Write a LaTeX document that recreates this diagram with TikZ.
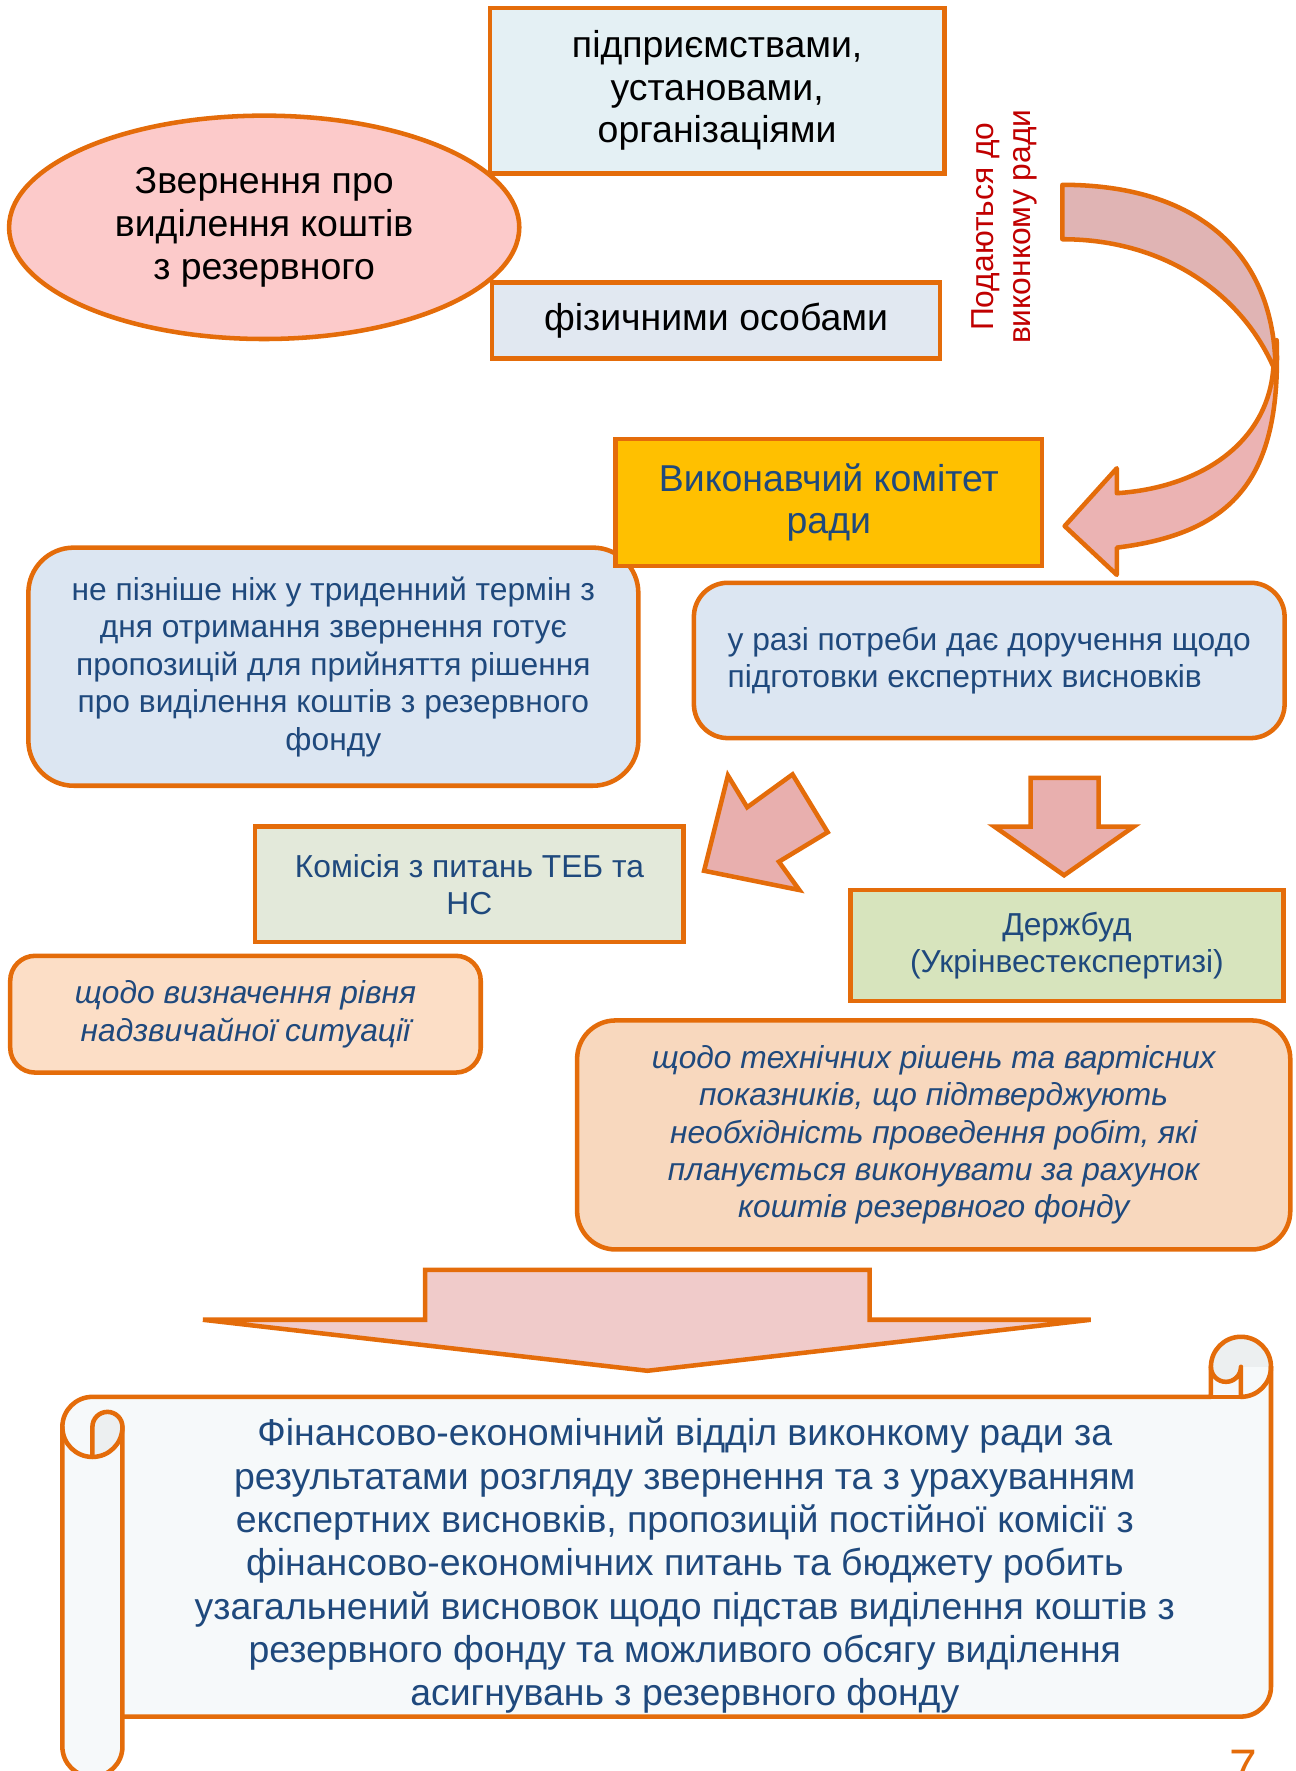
\documentclass[tikz,border=0pt]{standalone}
\usepackage{fontspec}
\setmainfont{Liberation Sans}
\usetikzlibrary{shapes.geometric}
\definecolor{bord}{HTML}{E46C0A}
\definecolor{navy}{HTML}{1F497D}
\definecolor{ellfill}{HTML}{FCCACA}
\definecolor{topfill}{HTML}{E4F0F4}
\definecolor{physfill}{HTML}{E1E8F1}
\definecolor{gold}{HTML}{FFC000}
\definecolor{bluefill}{HTML}{DCE6F2}
\definecolor{komfill}{HTML}{E3E9DA}
\definecolor{dbfill}{HTML}{D7E4BD}
\definecolor{peachA}{HTML}{FCDEC6}
\definecolor{peachB}{HTML}{F8D8BE}
\definecolor{arrA}{HTML}{E0B4B4}
\definecolor{arrB}{HTML}{EBB3B3}
\definecolor{arrC}{HTML}{E8AFAE}
\definecolor{arrD}{HTML}{F0CBCA}
\definecolor{scrl}{HTML}{F6F9FA}
\definecolor{curlc}{HTML}{ECEFF0}
\definecolor{redtxt}{HTML}{C00000}
\tikzset{
  bx/.style={draw=bord, line width=2pt, inner sep=0pt, align=center},
  bigf/.style={font=\fontsize{16.5pt}{18.75pt}\selectfont},
  smlf/.style={font=\fontsize{14pt}{16.5pt}\selectfont},
  smli/.style={font=\fontsize{14pt}{16.4pt}\selectfont\itshape},
  arr/.style={draw=bord, line width=2pt, line join=miter},
  carr/.style={draw=bord, line width=2pt, line join=round},
  ln/.style={draw=bord, line width=2pt, line join=round, line cap=round},
}
\begin{document}
\begin{tikzpicture}[x=0.5pt,y=-0.5pt]
\useasboundingbox (0,0) rectangle (1143,1562);
\clip (0,0) rectangle (1143,1562);

% top sources
\node[bx, fill=topfill, bigf, minimum width=200.5pt, minimum height=73pt] (org) at (632.5,80)
  {підприємствами,\\установами,\\організаціями};
\node[bx, fill=physfill, bigf, minimum width=197.5pt, minimum height=33.5pt] (phys) at (631.5,282.5)
  {фізичними особами};
\node[bx, ellipse, fill=ellfill, bigf, minimum width=225pt, minimum height=98.5pt] (req) at (233,200.5)
  {Звернення про\\виділення коштів\\з резервного};
\node[smlf, text=redtxt, rotate=90, align=center, inner sep=0pt] (lbl) at (886,200)
  {Подаються до\\виконкому ради};

% curved arrow
\path[carr, fill=arrB] (1126,300) .. controls (1130,420) and (1090,470) .. (985,483)
  -- (985,507) -- (939,464) -- (985,413) -- (985,435)
  .. controls (1060,430) and (1118,390) .. (1123,325) -- cycle;
\path[carr, fill=arrA] (937,163) .. controls (1055,163) and (1125,222) .. (1125,328)
  .. controls (1098,262) and (1030,211) .. (937,211) -- cycle;

% committee
\node[bx, rounded corners=20pt, fill=bluefill, smlf, text=navy, minimum width=269pt, minimum height=105pt] (prop) at (294,588)
  {не пізніше ніж у триденний термін з\\дня отримання звернення готує\\пропозицій для прийняття рішення\\про виділення коштів з резервного\\фонду};
\node[bx, fill=gold, font=\fontsize{16.5pt}{18.5pt}\selectfont, text=navy, minimum width=188pt, minimum height=56pt] (exec) at (731,443)
  {Виконавчий комітет\\ради};
\node[bx, rounded corners=15pt, fill=bluefill, smlf, text=navy, align=left, minimum width=260.5pt, minimum height=68.5pt] (exp) at (872.5,582.5)
  {у разі потреби дає доручення щодо\\підготовки експертних висновків};

% small arrows
\path[arr, fill=arrC] (642,684) -- (659,712) -- (699,683) -- (730,734) -- (687,760) -- (705,785) -- (621,768) -- cycle;
\path[arr, fill=arrC] (909,686) -- (969,686) -- (969,729) -- (1000,729) -- (938.5,772) -- (877,729) -- (909,729) -- cycle;

% experts
\node[bx, fill=komfill, smlf, text=navy, minimum width=189pt, minimum height=51pt] (kom) at (414,780)
  {Комісія з питань ТЕБ та\\НС};
\node[bx, fill=dbfill, smlf, text=navy, minimum width=191pt, minimum height=49pt] (db) at (941,834)
  {Держбуд\\(Укрінвестекспертизі)};
\node[bx, rounded corners=11pt, fill=peachA, smli, text=navy, minimum width=207.5pt, minimum height=51.5pt] (nsit) at (216.5,894.5)
  {щодо визначення рівня\\надзвичайної ситуації};
\node[bx, rounded corners=17pt, fill=peachB, smli, text=navy, minimum width=314.5pt, minimum height=101pt] (tech) at (823.5,1001)
  {щодо технічних рішень та вартісних\\показників, що підтверджують\\необхідність проведення робіт, які\\планується виконувати за рахунок\\коштів резервного фонду};

% big arrow
\path[arr, fill=arrD] (375,1120) -- (767,1120) -- (767,1164) -- (962,1164) -- (571,1209) -- (179,1164) -- (375,1164) -- cycle;

% scroll
\fill[scrl] (1068,1232) -- (81.5,1232) arc[start angle=-90, end angle=-180, radius=26.5]
  -- (55,1540.5) arc[start angle=180, end angle=0, radius=26.5]
  -- (108,1514) -- (1094.5,1514) arc[start angle=90, end angle=0, radius=26.5]
  -- (1121,1205.5) arc[start angle=0, end angle=-180, radius=26.5] -- cycle;
\fill[curlc] (1121,1205.5) arc[start angle=0, end angle=-180, radius=26.5]
  arc[start angle=180, end angle=0, radius=13.25] -- cycle;
\fill[curlc] (81.5,1285) -- (81.5,1258.5) arc[start angle=-180, end angle=0, radius=13.25]
  arc[start angle=0, end angle=90, radius=26.5] -- cycle;

\node[font=\fontsize{16.5pt}{19.1pt}\selectfont, text=navy, align=center, inner sep=0pt] (fin) at (604,1381)
  {Фінансово-економічний відділ виконкому ради за\\результатами розгляду звернення та з урахуванням\\експертних висновків, пропозицій постійної комісії з\\фінансово-економічних питань та бюджету робить\\узагальнений висновок щодо підстав виділення коштів з\\резервного фонду та можливого обсягу виділення\\асигнувань з резервного фонду};

\draw[ln] (1068,1232) -- (81.5,1232) arc[start angle=-90, end angle=-180, radius=26.5]
  -- (55,1540.5) arc[start angle=180, end angle=0, radius=26.5]
  -- (108,1514) -- (1094.5,1514) arc[start angle=90, end angle=0, radius=26.5]
  -- (1121,1205.5) arc[start angle=0, end angle=-180, radius=26.5] -- cycle;
\draw[ln] (1068,1205.5) arc[start angle=180, end angle=0, radius=13.25] -- (1094.5,1232);
\draw[ln] (1068,1232) -- (1094.5,1232);
\draw[ln] (1121,1205.5) arc[start angle=0, end angle=90, radius=26.5];
\draw[ln] (55,1258.5) arc[start angle=180, end angle=0, radius=26.5];
\draw[ln] (81.5,1285) -- (81.5,1258.5) arc[start angle=-180, end angle=0, radius=13.25] -- (108,1514);

\node[text=bord, font=\fontsize{22pt}{24pt}\selectfont, anchor=base, inner sep=0pt] (pg) at (1097,1574) {7};
\end{tikzpicture}
\end{document}
